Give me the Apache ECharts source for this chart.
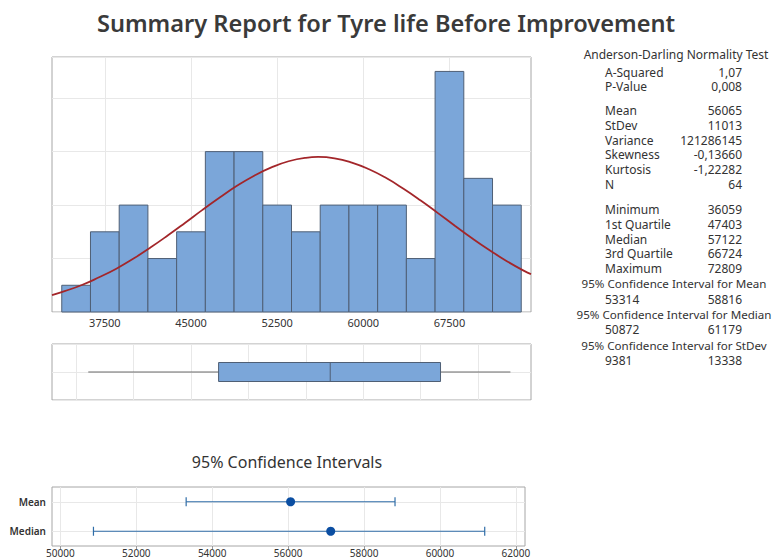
<!DOCTYPE html>
<html>
<head>
<meta charset="utf-8">
<script src="https://cdn.jsdelivr.net/npm/echarts@6/dist/echarts.min.js"></script>
<style>
  html, body { margin: 0; padding: 0; background: #fff; }
  #chart { width: 772px; height: 560px; }
</style>
</head>
<body>
<div id="chart"></div>
<script>
// histogram: bin centres (width 2500) and counts
const binWidth = 2500;
const binCenters = [35000, 37500, 40000, 42500, 45000, 47500, 50000, 52500,
  55000, 57500, 60000, 62500, 65000, 67500, 70000, 72500];
const binCounts = [1, 3, 4, 2, 3, 6, 6, 4, 3, 4, 4, 4, 2, 9, 5, 4];

// fitted normal curve
const curveX = [32900, 34000, 35500, 37000, 38500, 40000, 41500, 43000, 44500, 46000,
  47500, 49000, 50500, 52000, 53500, 55000, 56065, 57500, 59000, 60500, 62000,
  63500, 65000, 66500, 68000, 69500, 71000, 72500, 74000, 74600];
const curveY = [0.63, 0.78, 1.01, 1.30, 1.62, 2.00, 2.42, 2.87, 3.34, 3.82,
  4.28, 4.72, 5.10, 5.41, 5.64, 5.77, 5.80, 5.75, 5.59, 5.34, 5.01,
  4.61, 4.17, 3.70, 3.22, 2.75, 2.31, 1.90, 1.54, 1.42];

const histTicks = [37500, 45000, 52500, 60000, 67500];
const boxGrid = [35000, 40000, 45000, 50000, 55000, 60000, 65000, 70000];

// min, Q1, median, Q3, max
const boxStats = [36059, 47403, 57122, 66724, 72809];

// confidence intervals
const ciNames = ['Mean', 'Median'];
const ciCenter = [56065, 57122];
const ciLow = [53314, 50872];
const ciHigh = [58816, 61179];
const ciTicks = [50000, 52000, 54000, 56000, 58000, 60000, 62000];

// right hand table
const adLabels = ['A-Squared', 'P-Value'];
const adValues = ['1,07', '0,008'];
const momentLabels = ['Mean', 'StDev', 'Variance', 'Skewness', 'Kurtosis', 'N'];
const momentValues = ['56065', '11013', '121286145', '-0,13660', '-1,22282', '64'];
const quantLabels = ['Minimum', '1st Quartile', 'Median', '3rd Quartile', 'Maximum'];
const quantValues = ['36059', '47403', '57122', '66724', '72809'];
const ciTitles = ['95% Confidence Interval for Mean', '95% Confidence Interval for Median',
  '95% Confidence Interval for StDev'];
const ciTableValues = [['53314', '58816'], ['50872', '61179'], ['9381', '13338']];

const FONT = '"Noto Sans", "Open Sans", sans-serif';
const TXT = '#333333';
const GRIDLINE = '#e8e8e8';
const FRAME = '#a6a6a6';

const chart = echarts.init(document.getElementById('chart'), null, { renderer: 'svg' });

// table text
const graphics = [];
const addText = (text, x, y, align, size) => {
  graphics.push({
    type: 'text', x: x, y: y,
    style: {
      text: text, fontSize: size || 12, fontFamily: FONT, fill: TXT,
      align: align, verticalAlign: 'middle', lineHeight: 13
    }
  });
};
const labX = 605, valX = 742, midX = 674;
addText('Anderson-Darling Normality Test', midX + 2, 54, 'center');
adLabels.forEach((l, i) => { addText(l, labX, 72 + i * 14, 'left'); addText(adValues[i], valX, 72 + i * 14, 'right'); });
momentLabels.forEach((l, i) => { addText(l, labX, 110.5 + i * 14.8, 'left'); addText(momentValues[i], valX, 110.5 + i * 14.8, 'right'); });
quantLabels.forEach((l, i) => { addText(l, labX, 209.5 + i * 14.75, 'left'); addText(quantValues[i], valX, 209.5 + i * 14.75, 'right'); });
ciTitles.forEach((t, i) => {
  addText(t, midX, 283.5 + i * 30.8, 'center', 11.6);
  addText(ciTableValues[i][0], labX, 299 + i * 30.8, 'left');
  addText(ciTableValues[i][1], valX, 299 + i * 30.8, 'right');
});
graphics.push({
  type: 'text', x: 287, y: 462,
  style: { text: '95% Confidence Intervals', fontSize: 16, fontFamily: FONT, fill: TXT, align: 'center', verticalAlign: 'middle' }
});

const gridBase = { show: true, borderColor: FRAME, borderWidth: 1, backgroundColor: '#fff' };
const plain = v => String(v);

const option = {
  backgroundColor: '#fff',
  animation: false,
  title: {
    text: 'Summary Report for Tyre life Before Improvement',
    left: 'center',
    top: 6,
    textStyle: { fontFamily: FONT, fontSize: 23.6, fontWeight: 600, color: '#3a3a3a' }
  },
  graphic: graphics,
  grid: [
    Object.assign({ left: 52, top: 57, width: 479, height: 255 }, gridBase),
    Object.assign({ left: 52, top: 344, width: 479, height: 56 }, gridBase),
    Object.assign({ left: 52, top: 487, width: 473, height: 59 }, gridBase)
  ],
  xAxis: [
    {
      type: 'value', gridIndex: 0, min: 32900, max: 74600,
      axisLine: { show: false },
      axisTick: { show: false, customValues: histTicks },
      axisLabel: { customValues: histTicks, formatter: plain, color: TXT, fontSize: 11, fontFamily: FONT, margin: 5 },
      splitLine: { show: true, lineStyle: { color: GRIDLINE } }
    },
    {
      type: 'value', gridIndex: 1, min: 32900, max: 74600,
      axisLine: { show: false },
      axisTick: { show: false, customValues: boxGrid },
      axisLabel: { show: false },
      splitLine: { show: true, lineStyle: { color: GRIDLINE } }
    },
    {
      type: 'value', gridIndex: 2, min: 49780, max: 62240,
      axisLine: { show: false },
      axisTick: { show: true, customValues: ciTicks, length: 3, lineStyle: { color: '#999' } },
      axisLabel: { customValues: ciTicks, formatter: plain, color: TXT, fontSize: 10, fontFamily: FONT, margin: 2 },
      splitLine: { show: true, lineStyle: { color: GRIDLINE } }
    }
  ],
  yAxis: [
    {
      type: 'value', gridIndex: 0, min: 0, max: 9.54, interval: 2,
      axisLine: { show: false }, axisTick: { show: false }, axisLabel: { show: false },
      splitLine: { show: true, lineStyle: { color: GRIDLINE } }
    },
    {
      type: 'value', gridIndex: 1, min: 0, max: 2, interval: 1,
      axisLine: { show: false }, axisTick: { show: false }, axisLabel: { show: false },
      splitLine: { show: true, lineStyle: { color: GRIDLINE } }
    },
    {
      type: 'value', gridIndex: 2, min: 0, max: 4,
      axisLine: { show: false },
      axisTick: { show: false, customValues: [1, 3] },
      axisLabel: {
        customValues: [1, 3], color: TXT, fontSize: 10, fontWeight: 600, fontFamily: FONT, margin: 6,
        formatter: v => (v === 3 ? ciNames[0] : ciNames[1])
      },
      splitLine: { show: true, lineStyle: { color: GRIDLINE } }
    }
  ],
  series: [
    {
      type: 'custom',
      xAxisIndex: 0, yAxisIndex: 0,
      data: binCenters.map((c, i) => [c - binWidth / 2, c + binWidth / 2, binCounts[i]]),
      renderItem: (params, api) => {
        const p0 = api.coord([api.value(0), api.value(2)]);
        const p1 = api.coord([api.value(1), 0]);
        return {
          type: 'rect',
          shape: { x: p0[0], y: p0[1], width: p1[0] - p0[0], height: p1[1] - p0[1] },
          style: { fill: '#7ba6d9', stroke: '#4f5f75', lineWidth: 1 }
        };
      }
    },
    {
      type: 'line',
      xAxisIndex: 0, yAxisIndex: 0,
      data: curveX.map((x, i) => [x, curveY[i]]),
      smooth: true,
      symbol: 'none',
      lineStyle: { color: '#a3262a', width: 1.8 }
    },
    {
      type: 'custom',
      xAxisIndex: 1, yAxisIndex: 1,
      data: [boxStats.concat([1])],
      renderItem: (params, api) => {
        const y = api.value(5);
        const pMin = api.coord([api.value(0), y]);
        const pQ1 = api.coord([api.value(1), y]);
        const pMed = api.coord([api.value(2), y]);
        const pQ3 = api.coord([api.value(3), y]);
        const pMax = api.coord([api.value(4), y]);
        const h = 19;
        const line = { stroke: '#6b6b6b', lineWidth: 1 };
        return {
          type: 'group',
          children: [
            { type: 'line', shape: { x1: pMin[0], y1: pMin[1], x2: pQ1[0], y2: pQ1[1] }, style: line },
            { type: 'line', shape: { x1: pQ3[0], y1: pQ3[1], x2: pMax[0], y2: pMax[1] }, style: line },
            { type: 'rect', shape: { x: pQ1[0], y: pQ1[1] - h / 2, width: pQ3[0] - pQ1[0], height: h },
              style: { fill: '#7ba6d9', stroke: '#4f5f75', lineWidth: 1 } },
            { type: 'line', shape: { x1: pMed[0], y1: pMed[1] - h / 2, x2: pMed[0], y2: pMed[1] + h / 2 },
              style: { stroke: '#4f5f75', lineWidth: 1 } }
          ]
        };
      }
    },
    {
      type: 'custom',
      xAxisIndex: 2, yAxisIndex: 2,
      data: ciLow.map((lo, i) => [lo, ciHigh[i], i === 0 ? 3 : 1]),
      renderItem: (params, api) => {
        const a = api.coord([api.value(0), api.value(2)]);
        const b = api.coord([api.value(1), api.value(2)]);
        const st = { stroke: '#2f6da8', lineWidth: 1.2 };
        return {
          type: 'group',
          children: [
            { type: 'line', shape: { x1: a[0], y1: a[1], x2: b[0], y2: b[1] }, style: st },
            { type: 'line', shape: { x1: a[0], y1: a[1] - 4.5, x2: a[0], y2: a[1] + 4.5 }, style: st },
            { type: 'line', shape: { x1: b[0], y1: b[1] - 4.5, x2: b[0], y2: b[1] + 4.5 }, style: st }
          ]
        };
      }
    },
    {
      type: 'scatter',
      xAxisIndex: 2, yAxisIndex: 2,
      data: ciCenter.map((c, i) => [c, i === 0 ? 3 : 1]),
      symbol: 'circle',
      symbolSize: 9,
      itemStyle: { color: '#0b4ea2', opacity: 1 }
    }
  ]
};

chart.setOption(option);
</script>
</body>
</html>
